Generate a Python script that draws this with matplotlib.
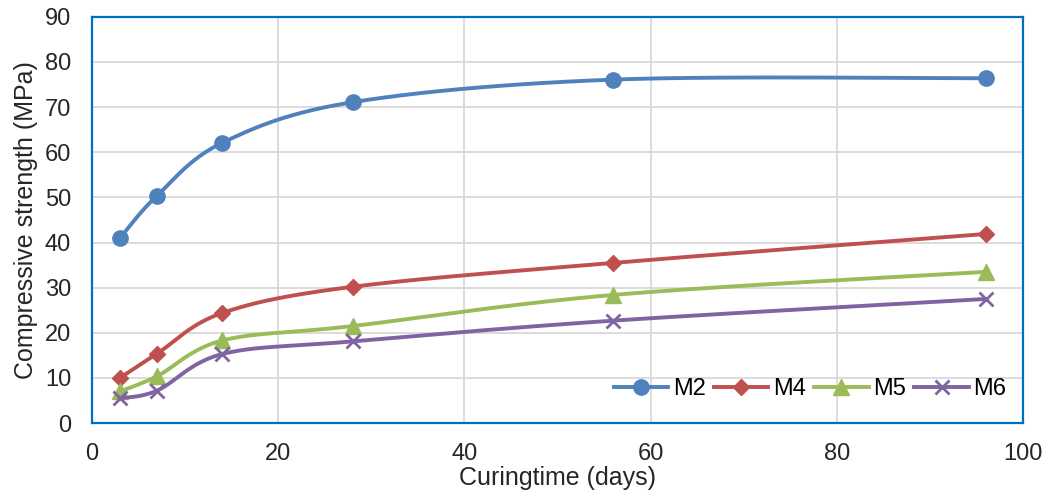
import matplotlib.pyplot as plt
import numpy as np

plt.rcParams['font.family'] = ['Liberation Sans', 'DejaVu Sans']

days = [3, 7, 14, 28, 56, 96]
m2 = [41.0, 50.4, 62.1, 71.1, 76.1, 76.4]
m4 = [10.0, 15.4, 24.4, 30.2, 35.5, 41.9]
m5 = [7.0, 10.4, 18.3, 21.5, 28.4, 33.5]
m6 = [5.5, 7.2, 15.3, 18.1, 22.7, 27.5]

series = [('M2', m2, '#4F81BD', 'o', 11, None),
          ('M4', m4, '#C0504D', 'D', 8.5, None),
          ('M5', m5, '#9BBB59', '^', 11, None),
          ('M6', m6, '#8064A2', 'x', 10, 2)]


def smooth(x, y, n=40):
    # Excel-like smoothed line (Catmull-Rom bezier)
    x = np.asarray(x, float)
    y = np.asarray(y, float)
    px = np.concatenate([[x[0]], x, [x[-1]]])
    py = np.concatenate([[y[0]], y, [y[-1]]])
    xs, ys = [], []
    t = np.linspace(0, 1, n)
    for i in range(1, len(px) - 2):
        p0 = np.array([px[i], py[i]])
        p3 = np.array([px[i + 1], py[i + 1]])
        c1 = p0 + (p3 - np.array([px[i - 1], py[i - 1]])) / 6
        c2 = p3 - (np.array([px[i + 2], py[i + 2]]) - p0) / 6
        pts = ((1 - t) ** 3)[:, None] * p0 + (3 * (1 - t) ** 2 * t)[:, None] * c1 \
            + (3 * (1 - t) * t ** 2)[:, None] * c2 + (t ** 3)[:, None] * p3
        xs.extend(pts[:, 0])
        ys.extend(pts[:, 1])
    return xs, ys


fig = plt.figure(figsize=(10.45, 4.96), dpi=100)
ax = fig.add_axes([0.088, 0.147, 0.891, 0.819])

for name, vals, col, mk, ms, mew in series:
    sx, sy = smooth(days, vals)
    ax.plot(sx, sy, color=col, lw=2.8, solid_capstyle='round')
    ax.plot(days, vals, ls='none', marker=mk, color=col, ms=ms,
            mew=mew if mew else 1, markeredgecolor=col)
    ax.plot([], [], color=col, lw=2.8, marker=mk, ms=ms,
            mew=mew if mew else 1, label=name)

ax.set_xlim(0, 100)
ax.set_ylim(0, 90)
ax.set_xticks(range(0, 101, 20))
ax.set_yticks(range(0, 91, 10))
ax.grid(True, color='#D9D9D9', lw=1.3)
ax.set_axisbelow(True)
for s in ax.spines.values():
    s.set_color('#0070C0')
    s.set_linewidth(1.6)
ax.tick_params(length=0, labelsize=17, colors='#262626')
ax.tick_params(axis='x', pad=14)
ax.tick_params(axis='y', pad=15)
ax.set_xlabel('Curingtime (days)', fontsize=18, color='#262626', labelpad=1)
ax.set_ylabel('Compressive strength (MPa)', fontsize=18, color='#262626', labelpad=5)
ax.legend(loc='lower right', ncol=4, frameon=False, fontsize=17,
          handlelength=2.3, handletextpad=0.2, columnspacing=0.35,
          borderaxespad=0.3, bbox_to_anchor=(1.0, 0.015))

fig.savefig('out.png', dpi=100)
